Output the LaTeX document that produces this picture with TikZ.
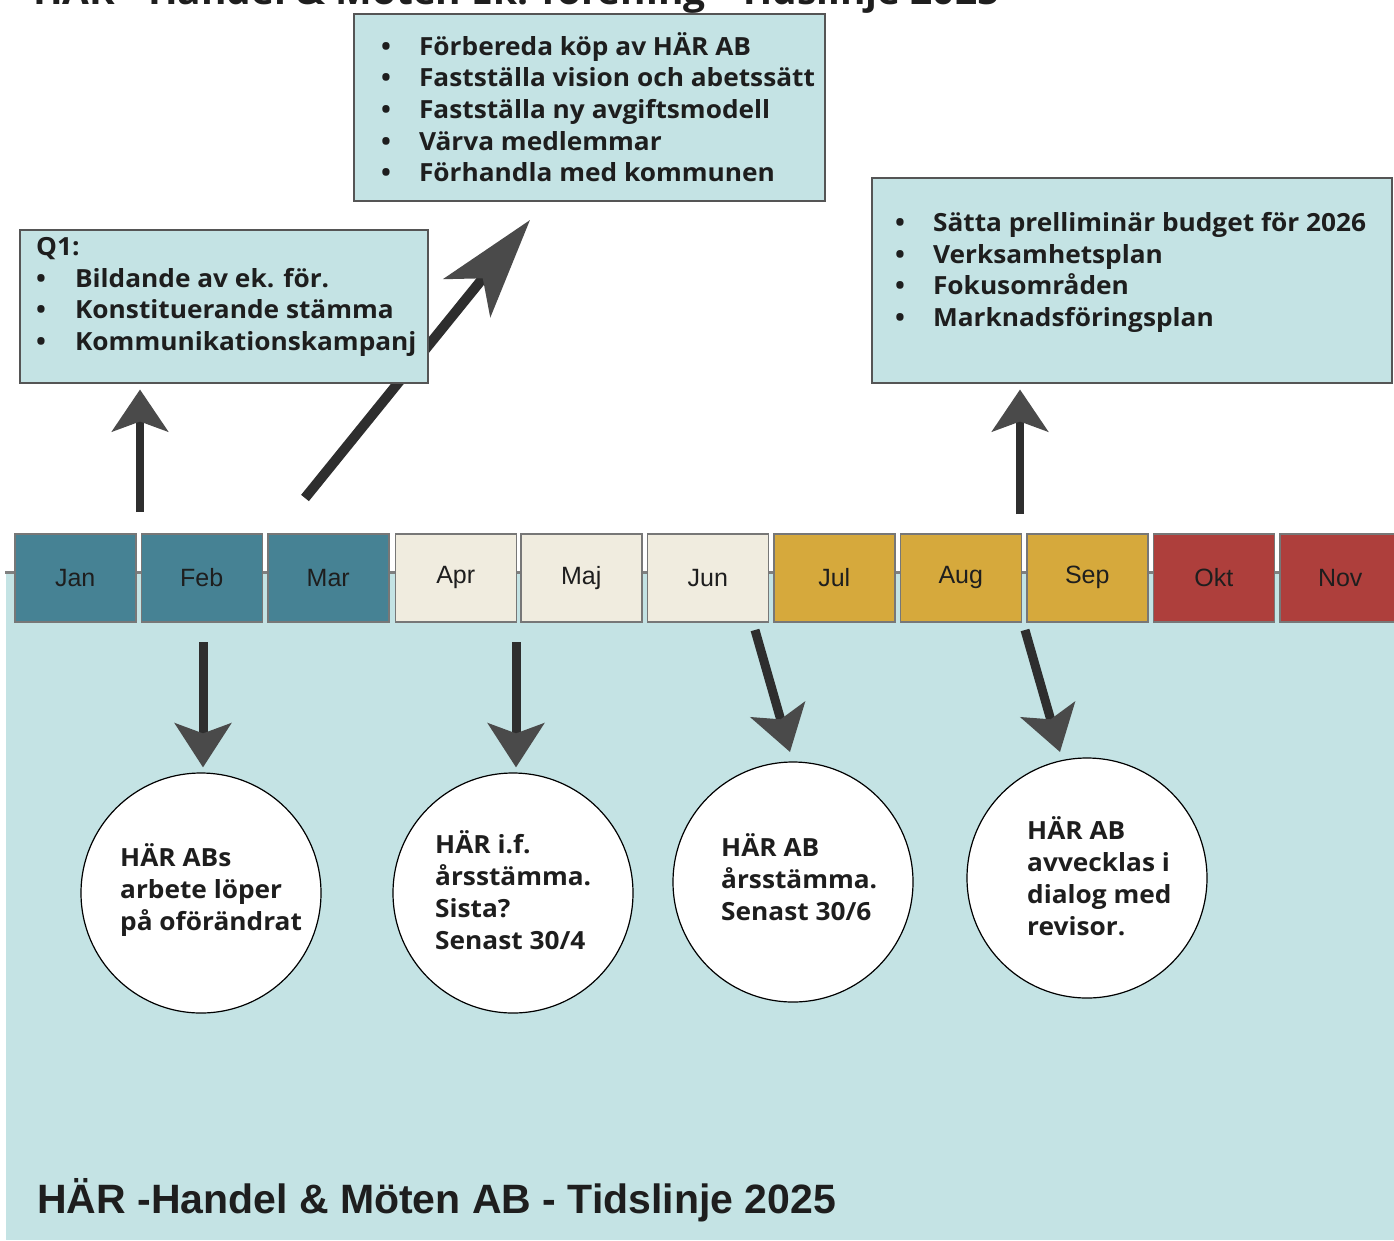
\documentclass[tikz,border=0pt]{standalone}
\usepackage{fontspec}
\setmainfont{Open Sans}[FakeStretch=1.05]
\newfontfamily\monthfont{Liberation Sans}
\usetikzlibrary{arrows.meta,calc}
\definecolor{bgblue}{HTML}{C4E3E4}
\definecolor{mteal}{HTML}{468294}
\definecolor{mcream}{HTML}{F0ECDF}
\definecolor{mgold}{HTML}{D6A93C}
\definecolor{mred}{HTML}{AE3F3C}
\definecolor{boxedge}{HTML}{555555}
\definecolor{arrdark}{HTML}{2E2E2E}
\definecolor{arrhead}{HTML}{4A4A4A}
\definecolor{txt}{HTML}{1E1E1E}
\tikzset{
  month/.style={draw=boxedge!80, line width=1.5pt, minimum width=121pt, minimum height=88pt,
    inner sep=0pt, anchor=north west, font=\monthfont\fontsize{25}{28}\selectfont, text=txt},
  infobox/.style={draw=boxedge, line width=1.5pt, fill=bgblue, anchor=north west, inner sep=0pt},
  listtext/.style={anchor=north west, inner sep=0pt, align=left, text=txt,
    font=\bfseries\fontsize{25}{31.7}\selectfont},
  circ/.style={circle, draw=black, line width=1.2pt, fill=white, minimum size=240pt, inner sep=0pt},
  circtext/.style={anchor=west, inner sep=0pt, align=left, text=txt,
    font=\bfseries\fontsize{25}{32}\selectfont},
  uparr/.style={draw=arrdark, line width=8pt, shorten >=6pt,
    -{Stealth[length=42pt,width=56pt,inset=10pt,color=arrhead]}},
  downarr/.style={draw=arrdark, line width=9pt,
    -{Stealth[length=44pt,width=56pt,inset=10pt,color=arrhead]}},
  diagarr/.style={draw=arrdark, line width=10pt,
    -{Stealth[length=100pt,width=60pt,inset=25pt,color=arrhead]}},
}
\begin{document}
\begin{tikzpicture}[x=1pt,y=-1pt]
\useasboundingbox (0,0) rectangle (1394,1240);
\clip (0,0) rectangle (1394,1240);
% background
\fill[white] (0,0) rectangle (1394,1240);
\fill[bgblue] (6,572) rectangle (1394,1240);
% top (cut) title
\node[anchor=base west, inner sep=0pt, text=txt, font=\bfseries\fontsize{37}{40}\selectfont] (toptitle) at (33,4) {HÄR - Handel \& Möten Ek. förening - Tidslinje 2025};
% timeline line
\draw[gray, line width=3pt] (5,572) -- (1394,572);
% months
\node[month, fill=mteal]  (jan) at (14,533)   {Jan};
\node[month, fill=mteal]  (feb) at (140.5,533) {Feb};
\node[month, fill=mteal]  (mar) at (267,533)  {Mar};
\node[month, fill=mcream] (apr) at (394.5,533) {Apr};
\node[month, fill=mcream] (maj) at (520,533)  {Maj};
\node[month, fill=mcream] (jun) at (646.5,533) {Jun};
\node[month, fill=mgold]  (jul) at (773,533)  {Jul};
\node[month, fill=mgold]  (aug) at (899.5,533) {Aug};
\node[month, fill=mgold]  (sep) at (1026,533) {Sep};
\node[month, fill=mred]   (okt) at (1152.5,533) {Okt};
\node[month, fill=mred]   (nov) at (1279,533) {Nov};
% diagonal arrow (behind Q1 box)
\coordinate (a2s) at (305,498);
\coordinate (a2e) at (530,220);
\draw[diagarr] (a2s) -- (a2e);
% info boxes
\node[infobox, minimum width=471pt, minimum height=187pt] (topbox) at (353,13) {};
\node[listtext] (toptext) at (381,32) {%
  \begin{tabular}{@{}l@{\hspace{28pt}}l@{}}
  \textbullet & Förbereda köp av HÄR AB\\
  \textbullet & Fastställa vision och abetssätt\\
  \textbullet & Fastställa ny avgiftsmodell\\
  \textbullet & Värva medlemmar\\
  \textbullet & Förhandla med kommunen
  \end{tabular}};
\node[infobox, minimum width=408pt, minimum height=153pt] (q1) at (19,229) {};
\node[listtext] (q1text) at (36,233) {%
  \begin{tabular}{@{}l@{\hspace{29pt}}l@{}}
  \multicolumn{2}{@{}l}{Q1:}\\
  \textbullet & Bildande av ek. för.\\
  \textbullet & Konstituerande stämma\\
  \textbullet & Kommunikationskampanj
  \end{tabular}};
\node[infobox, minimum width=520pt, minimum height=205pt] (rbox) at (871,177) {};
\node[listtext] (rtext) at (895,209) {%
  \begin{tabular}{@{}l@{\hspace{28pt}}l@{}}
  \textbullet & Sätta prelliminär budget för 2026\\
  \textbullet & Verksamhetsplan\\
  \textbullet & Fokusområden\\
  \textbullet & Marknadsföringsplan
  \end{tabular}};
% circles
\node[circ] (c1) at (201,893) {};
\node[circ] (c2) at (513,893) {};
\node[circ] (c3) at (793,882) {};
\node[circ] (c4) at (1087,878) {};
\node[circtext] (t1) at (120,890) {HÄR ABs\\arbete löper\\på oförändrat};
\node[circtext] (t2) at (435,890) {HÄR i.f.\\årsstämma.\\Sista?\\Senast 30/4};
\node[circtext] (t3) at (721,877) {HÄR AB\\årsstämma.\\Senast 30/6};
\node[circtext] (t4) at (1027,876) {HÄR AB\\avvecklas i\\dialog med\\revisor.};
% up arrows
\coordinate (a1s) at (140,512);
\draw[uparr] (a1s) -- (a1s |- q1.south);
\coordinate (a3s) at (1020,514);
\draw[uparr] (a3s) -- (a3s |- rbox.south);
% down arrows
\coordinate (d1s) at (203,642);
\draw[downarr, shorten >=5pt] (d1s) -- (d1s |- c1.north);
\coordinate (d2s) at (516,642);
\draw[downarr, shorten >=5pt] (d2s) -- (d2s |- c2.north);
\coordinate (d3s) at (755,630);
\coordinate (d3e) at (790,752);
\draw[downarr] (d3s) -- (d3e);
\coordinate (d4s) at (1025,630);
\coordinate (d4e) at (1060,752);
\draw[downarr] (d4s) -- (d4e);
% bottom title
\node[anchor=base west, inner sep=0pt, text=txt, font=\monthfont\bfseries\fontsize{41}{44}\selectfont] (title) at (37,1213) {HÄR -Handel \& Möten AB - Tidslinje 2025};
\end{tikzpicture}
\end{document}
